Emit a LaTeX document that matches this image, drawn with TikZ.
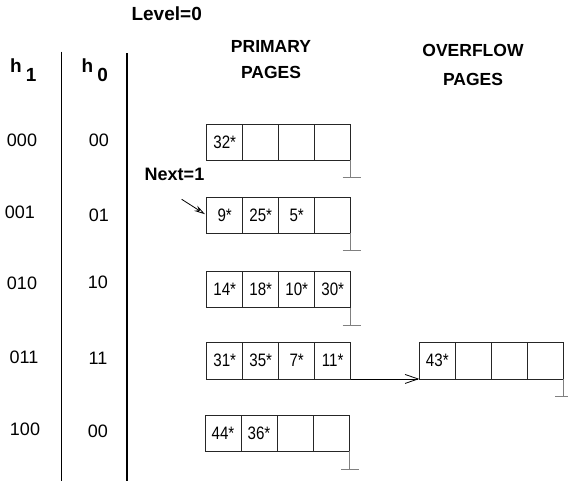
\documentclass[tikz,border=0pt]{standalone}
\usepackage{fontspec}
\setmainfont{Liberation Sans}
\newfontfamily\narrowfont[FakeStretch=0.84]{Liberation Sans}
\usepackage{tikz}
\usetikzlibrary{arrows.meta, positioning, calc}
\definecolor{boxLine}{HTML}{262626}
\definecolor{groundLine}{HTML}{808080}
\tikzset{
  cell/.style={draw=boxLine, line width=0.8pt, minimum width=36pt, minimum height=36.3pt, inner sep=0pt, outer sep=0pt, font=\narrowfont\fontsize{18}{18}\selectfont},
  head/.style={font=\bfseries\fontsize{17.5}{26}\selectfont, align=center},
  hash/.style={font=\bfseries\fontsize{19}{19}\selectfont, inner sep=0pt, anchor=base west},
  bucket/.style={font=\fontsize{18}{18}\selectfont},
  ground/.style={draw=groundLine, line width=0.9pt},
}
\begin{document}
\begin{tikzpicture}[x=1pt, y=-1pt]
        \useasboundingbox (0,0) rectangle (568,481);

        % Headings
        \node[head, font=\bfseries\fontsize{19}{19}\selectfont] (level) at (166.7,13.3) {Level=0};
        \node[head] (primary) at (271,60) {PRIMARY\\PAGES};
        \node[head, font=\bfseries\fontsize{17.5}{29}\selectfont] (overflow) at (473,64.5) {OVERFLOW\\PAGES};
        \node[hash] (hone) at (10,73) {h\hspace{4pt}\raisebox{-8.5pt}{1}};
        \node[hash] (hzero) at (81.5,73) {h\hspace{4pt}\raisebox{-8.5pt}{0}};

        % Column rules
        \draw[line width=0.8pt] (61.7,51.7) -- (61.7,481);
        \draw[line width=1.6pt] (126.7,53.3) -- (126.7,481);

        % Bucket labels
        \node[bucket] (b000) at (22,140) {000};
        \node[bucket] (b001) at (20,212) {001};
        \node[bucket] (b010) at (22,283) {010};
        \node[bucket] (b011) at (24,357) {011};
        \node[bucket] (b100) at (25,429) {100};
        \node[bucket] (h00) at (99,140) {00};
        \node[bucket] (h01) at (99,215) {01};
        \node[bucket] (h10) at (98,282) {10};
        \node[bucket] (h11) at (98,358) {11};
        \node[bucket] (h00b) at (98,431) {00};

        % Primary pages
        \node[cell] (p1a) at (224.7,142.3) {32*};
        \node[cell, right=0pt of p1a] (p1b) {};
        \node[cell, right=0pt of p1b] (p1c) {};
        \node[cell, right=0pt of p1c] (p1d) {};

        \node[cell] (p2a) at (224.7,215.3) {9*};
        \node[cell, right=0pt of p2a] (p2b) {25*};
        \node[cell, right=0pt of p2b] (p2c) {5*};
        \node[cell, right=0pt of p2c] (p2d) {};

        \node[cell] (p3a) at (224.7,289.7) {14*};
        \node[cell, right=0pt of p3a] (p3b) {18*};
        \node[cell, right=0pt of p3b] (p3c) {10*};
        \node[cell, right=0pt of p3c] (p3d) {30*};

        \node[cell] (p4a) at (224.7,360.8) {31*};
        \node[cell, right=0pt of p4a] (p4b) {35*};
        \node[cell, right=0pt of p4b] (p4c) {7*};
        \node[cell, right=0pt of p4c] (p4d) {11*};

        \node[cell] (p5a) at (223,433.3) {44*};
        \node[cell, right=0pt of p5a] (p5b) {36*};
        \node[cell, right=0pt of p5b] (p5c) {};
        \node[cell, right=0pt of p5c] (p5d) {};

        % Overflow page
        \node[cell] (o1a) at (437.3,360.8) {43*};
        \node[cell, right=0pt of o1a] (o1b) {};
        \node[cell, right=0pt of o1b] (o1c) {};
        \node[cell, right=0pt of o1c] (o1d) {};

        % Null pointers
        \draw[ground] (p1d.south east) -- ++(0,17.5) coordinate (g1);
        \draw[ground] ([xshift=-8pt]g1) -- ([xshift=10pt]g1);
        \draw[ground] (p2d.south east) -- ++(0,17.5) coordinate (g2);
        \draw[ground] ([xshift=-8pt]g2) -- ([xshift=10pt]g2);
        \draw[ground] (p3d.south east) -- ++(0,17.5) coordinate (g3);
        \draw[ground] ([xshift=-8pt]g3) -- ([xshift=10pt]g3);
        \draw[ground] (p5d.south east) -- ++(0,17.5) coordinate (g5);
        \draw[ground] ([xshift=-8pt]g5) -- ([xshift=10pt]g5);
        \draw[ground] (o1d.south east) -- ++(0,17.5) coordinate (go);
        \draw[ground] ([xshift=-8pt]go) -- ([xshift=10pt]go);

        % Next pointer
        \node[head, font=\bfseries\fontsize{18}{18}\selectfont] (next) at (174.5,174.3) {Next=1};
        \coordinate (nexttail) at (181.7,199.3);
        \draw[line width=0.8pt, -{Stealth[open, length=11pt, width=6pt]}, shorten >=2pt] (nexttail) -- (p2a.west);

        % Overflow chain
        \draw[line width=0.8pt, -{Straight Barb[length=13pt, width=9pt]}] (p4d.south east) -- (o1a.south west);
    \end{tikzpicture}
\end{document}
